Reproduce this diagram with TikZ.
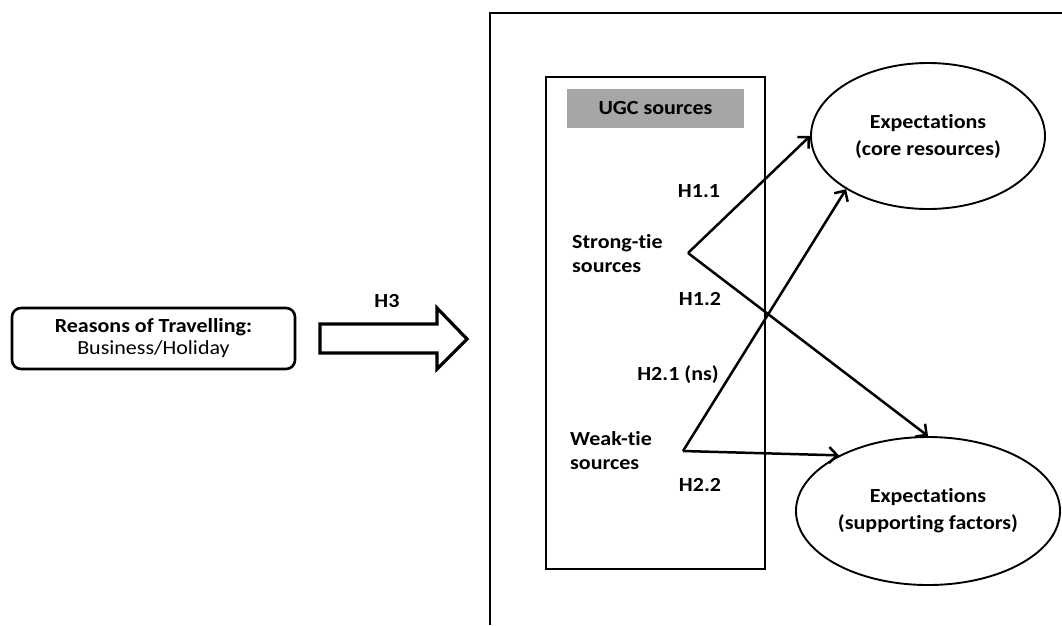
\documentclass[tikz,border=0pt]{standalone}
\usepackage{fontspec}
\setmainfont{Carlito}[FakeStretch=1.1,Ligatures=NoCommon]
\usetikzlibrary{positioning,arrows.meta,shapes.geometric}
\definecolor{ugcgray}{HTML}{A6A6A6}

\begin{document}
\begin{tikzpicture}[x=1pt,y=-1pt,font=\fontsize{20}{24}\selectfont,
  box/.style={draw,line width=2.2pt},
  hyp/.style={font=\fontsize{20}{24}\selectfont\bfseries},
  construct/.style={draw,ellipse,line width=1.9pt,align=center,font=\fontsize{20}{27}\selectfont\bfseries},
  hyparrow/.style={line width=2.5pt,-{Straight Barb[length=8pt,width=16pt]}}]
\useasboundingbox (0,0) rectangle (1062,625);
\node[box,rounded corners=9pt,line width=2.6pt,minimum width=283,minimum height=61,align=center] (reasons) at (153.5,338.5) {\textbf{Reasons of Travelling:}\\[-2pt]Business/Holiday};
\draw[line width=3.2pt,line join=miter] (320,324)--(437,324)--(437,308)--(467,339)--(437,369)--(437,353)--(320,353)--cycle;
\node[hyp] (h3) at (387,301) {H3};
\draw[line width=2.2pt] (490,625)--(490,13)--(1062,13);
\node[box,minimum width=219,minimum height=492] (ugc) at (655.5,323) {};
\node[fill=ugcgray,minimum width=177,minimum height=39,hyp] (ugctitle) at (655.5,108.5) {UGC sources};
\node[hyp,align=left,anchor=west,inner sep=0pt] (strong) at (572,254) {Strong-tie\\sources};
\node[hyp,align=left,anchor=west,inner sep=0pt] (weak) at (570,451) {Weak-tie\\sources};
\coordinate (sv) at (688,253); \coordinate (wv) at (683,451);
\node[construct,minimum width=234,minimum height=146] (core) at (928,136) {Expectations\\(core resources)};
\node[construct,minimum width=232,minimum height=148] (supp) at (928,511) {Expectations\\(supporting factors)};
\draw[hyparrow] (sv)--(core.west); \draw[hyparrow] (sv)--(supp.north);
\draw[hyparrow] (wv)--(core.213); \draw[hyparrow] (wv)--(supp.148);
\node[hyp] (h11) at (699,191) {H1.1}; \node[hyp] (h12) at (700,299) {H1.2};
\node[hyp] (h21) at (678,375) {H2.1 (ns)}; \node[hyp] (h22) at (700,485) {H2.2};
\end{tikzpicture}
\end{document}
